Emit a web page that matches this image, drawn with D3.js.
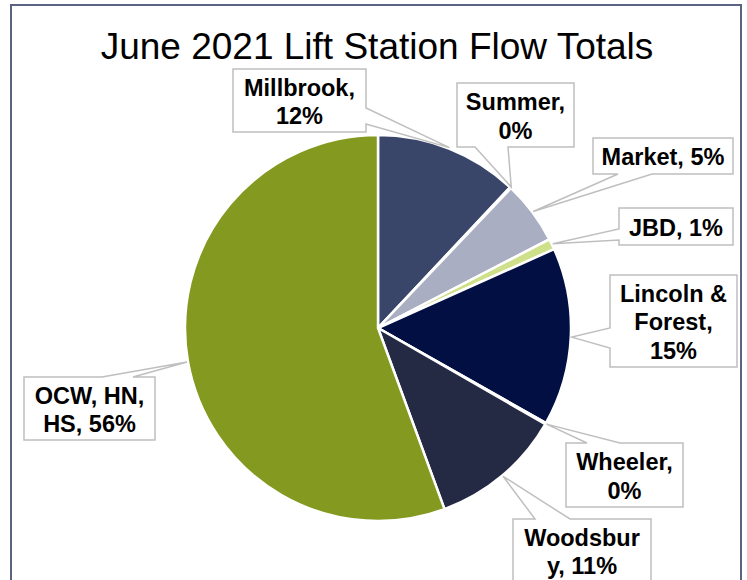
<!DOCTYPE html>
<html>
<head>
<meta charset="utf-8">
<script src="https://cdn.jsdelivr.net/npm/d3@7"></script>
<style>
  html, body { margin: 0; padding: 0; background: #fff; }
  svg { display: block; }
  text { font-family: "Liberation Sans", Arial, sans-serif; }
</style>
</head>
<body>
<svg id="chart" width="747" height="580"></svg>
<script>
// ---- data ----
const title = "June 2021 Lift Station Flow Totals";
const categories = ["Millbrook", "Summer", "Market", "JBD", "Lincoln & Forest", "Wheeler", "Woodsbury", "OCW, HN, HS"];
const values = [12.0, 0.1, 5.3, 0.9, 14.9, 0.1, 11.1, 55.6];
const colors = ["#3a4669", "#6b7492", "#aaaec2", "#cfe08a", "#020f43", "#4a5578", "#242a44", "#84991f"];

// ---- layout (label boxes; pointer base along one side) ----
const labelBoxes = [
  { x: 233, y: 69,  w: 133, h: 63, side: "right",  b0: 39, b1: 55 },
  { x: 457, y: 83,  w: 117, h: 64, side: "bottom", b0: 18, b1: 51 },
  { x: 593, y: 138, w: 140, h: 36, side: "bottom", b0: 25, b1: 59 },
  { x: 619, y: 208, w: 114, h: 37, side: "left",   b0: 21, b1: 32 },
  { x: 610, y: 275, w: 127, h: 92, side: "left",   b0: 53, b1: 73 },
  { x: 566, y: 443, w: 117, h: 64, side: "top",    b0: 21, b1: 54 },
  { x: 513, y: 519, w: 138, h: 63, side: "top",    b0: 22, b1: 57 },
  { x: 24,  y: 377, w: 131, h: 63, side: "top",    b0: 78, b1: 109 }
];

const W = 747, H = 580;
const cx = 378, cy = 328, R = 193;
const fontSize = 23.5, lineH = 28.3;

const svg = d3.select("#chart");

// outer frame
svg.append("rect")
  .attr("x", 11).attr("y", 5).attr("width", 730).attr("height", 640)
  .attr("fill", "#fff").attr("stroke", "#5a6382").attr("stroke-width", 2);

// title
svg.append("text")
  .attr("x", 377).attr("y", 59)
  .attr("text-anchor", "middle")
  .attr("font-size", 37)
  .attr("fill", "#000")
  .text(title);

const total = d3.sum(values);
const pie = d3.pie().sort(null).value(d => d.value);
const arcs = pie(categories.map((c, i) => ({ name: c, value: values[i], color: colors[i] })));
const arc = d3.arc().innerRadius(0).outerRadius(R);

const g = svg.append("g").attr("transform", `translate(${cx},${cy})`);
g.selectAll("path.slice")
  .data(arcs)
  .join("path")
  .attr("class", "slice")
  .attr("d", arc)
  .attr("fill", d => d.data.color)
  .attr("stroke", "#fff")
  .attr("stroke-width", 2.5)
  .attr("stroke-linejoin", "miter");

// labels with callouts
const measurer = svg.append("text").attr("font-size", fontSize).attr("font-weight", "bold").attr("visibility", "hidden");
function tw(s) { measurer.text(s); return measurer.node().getComputedTextLength(); }
function wrap(str, maxW) {
  const words = str.split(" ");
  const lines = [];
  let line = "";
  words.forEach(word => {
    const cand = line ? line + " " + word : word;
    if (tw(cand) <= maxW) { line = cand; return; }
    if (tw(word) <= maxW) { if (line) lines.push(line); line = word; return; }
    // break inside the word
    for (const ch of word) {
      const c2 = line + ch;
      if (tw(c2) <= maxW) line = c2;
      else { lines.push(line); line = ch; }
    }
  });
  if (line) lines.push(line);
  return lines;
}

const lg = svg.append("g");
arcs.forEach((d, i) => {
  const b = labelBoxes[i];
  const mid = (d.startAngle + d.endAngle) / 2;
  const tx = cx + (R + 1) * Math.sin(mid);
  const ty = cy - (R + 1) * Math.cos(mid);
  const x = b.x, y = b.y, w = b.w, h = b.h;
  let p = `M${x},${y}`;
  if (b.side === "top") p += `L${x + b.b0},${y}L${tx},${ty}L${x + b.b1},${y}`;
  p += `L${x + w},${y}`;
  if (b.side === "right") p += `L${x + w},${y + b.b0}L${tx},${ty}L${x + w},${y + b.b1}`;
  p += `L${x + w},${y + h}`;
  if (b.side === "bottom") p += `L${x + b.b1},${y + h}L${tx},${ty}L${x + b.b0},${y + h}`;
  p += `L${x},${y + h}`;
  if (b.side === "left") p += `L${x},${y + b.b1}L${tx},${ty}L${x},${y + b.b0}`;
  p += "Z";
  lg.append("path").attr("d", p)
    .attr("fill", "#fff").attr("stroke", "#bfbfbf").attr("stroke-width", 1.5);

  const pct = Math.round(d.data.value / total * 100);
  const lines = wrap(`${d.data.name}, ${pct}%`, w - 12);
  const t = lg.append("text")
    .attr("font-size", fontSize).attr("font-weight", "bold")
    .attr("fill", "#000").attr("text-anchor", "middle");
  const firstBase = y + h / 2 - (lines.length - 1) * lineH / 2 + 0.4 * fontSize;
  lines.forEach((ln, k) => {
    t.append("tspan").attr("x", x + w / 2).attr("y", firstBase + k * lineH).text(ln);
  });
});
measurer.remove();
</script>
</body>
</html>
